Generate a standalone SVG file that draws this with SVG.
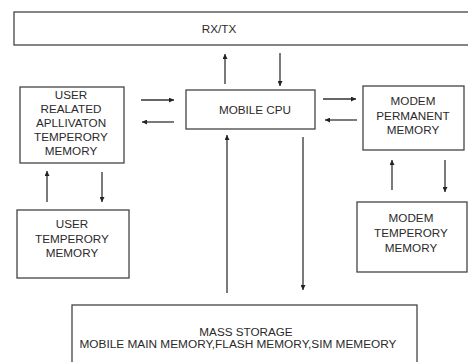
<svg xmlns="http://www.w3.org/2000/svg" width="468" height="362" viewBox="0 0 468 362">
<style>
.box{fill:#fff;stroke:#444;stroke-width:1.3}
.t{font-family:"Liberation Sans",Arial,sans-serif;font-size:11.7px;fill:#2a2a2a;text-anchor:middle}
.c{stroke:#333;stroke-width:1.3;fill:none;marker-end:url(#ah)}
</style>
<defs>
<marker id="ah" viewBox="0 0 10 10" refX="10" refY="5" markerWidth="5" markerHeight="5" orient="auto" markerUnits="userSpaceOnUse"><path d="M0,0L10,5L0,10z" fill="#222"/></marker>
</defs>
<rect width="468" height="362" fill="#fff"/>
<g id="rxtx"><rect class="box" x="14" y="12" width="460" height="33"/><text class="t" x="219" y="33">RX/TX</text></g>
<g id="user-app"><rect class="box" x="20" y="87" width="104" height="76"/>
<text class="t" x="71" y="99">USER</text><text class="t" x="71" y="113">REALATED</text><text class="t" x="71" y="127">APLLIVATON</text><text class="t" x="71" y="141">TEMPERORY</text><text class="t" x="71" y="155">MEMORY</text></g>
<g id="cpu"><rect class="box" x="186" y="90" width="129" height="39"/><text class="t" x="255" y="114">MOBILE CPU</text></g>
<g id="modem-perm"><rect class="box" x="363" y="86" width="101" height="64"/>
<text class="t" x="413" y="105">MODEM</text><text class="t" x="413" y="120">PERMANENT</text><text class="t" x="413" y="134">MEMORY</text></g>
<g id="user-temp"><rect class="box" x="17" y="210" width="112" height="68"/>
<text class="t" x="72" y="228">USER</text><text class="t" x="72" y="243">TEMPERORY</text><text class="t" x="72" y="257">MEMORY</text></g>
<g id="modem-temp"><rect class="box" x="357" y="202" width="110" height="70"/>
<text class="t" x="411" y="222">MODEM</text><text class="t" x="411" y="237">TEMPERORY</text><text class="t" x="411" y="252">MEMORY</text></g>
<g id="mass"><rect class="box" x="72" y="305" width="345" height="70"/>
<text class="t" x="246" y="336">MASS STORAGE</text><text class="t" x="238" y="348" textLength="317" lengthAdjust="spacingAndGlyphs">MOBILE MAIN MEMORY,FLASH MEMORY,SIM MEMEORY</text></g>
<g id="connectors">
<path class="c" d="M225 84V54"/>
<path class="c" d="M280 53V86"/>
<path class="c" d="M141 100H174"/>
<path class="c" d="M174 122H142"/>
<path class="c" d="M323 99H356"/>
<path class="c" d="M357 120H325"/>
<path class="c" d="M47 202V171"/>
<path class="c" d="M102 172V202"/>
<path class="c" d="M227 293V135"/>
<path class="c" d="M303 137V290"/>
<path class="c" d="M392 190V160"/>
<path class="c" d="M445 160V192"/>
</g>
</svg>
